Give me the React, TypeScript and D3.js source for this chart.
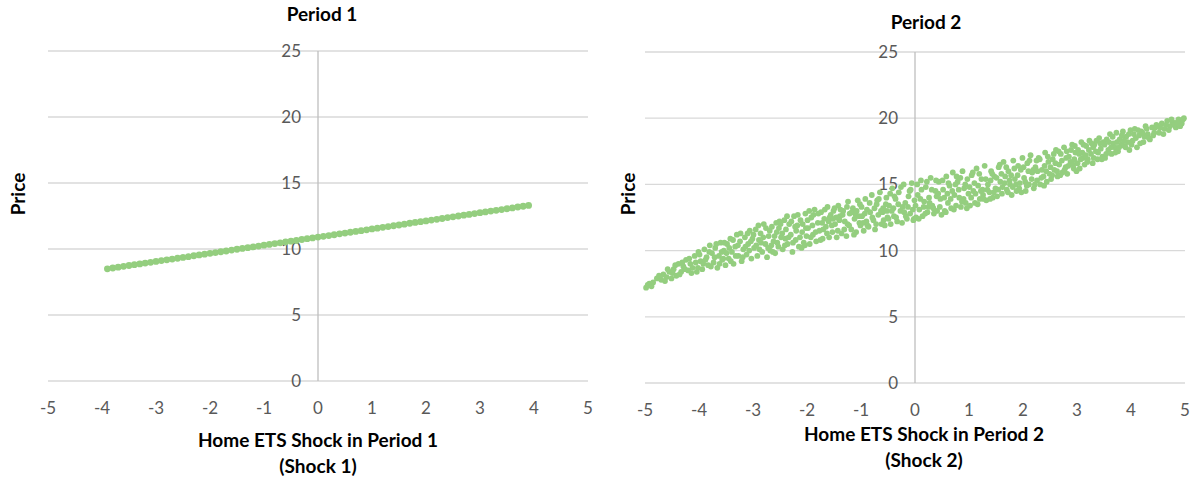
import React from "react";
import * as d3 from "d3";

// ---------- DATA ----------
const xTicks = [-5, -4, -3, -2, -1, 0, 1, 2, 3, 4, 5];
const yTicks = [0, 5, 10, 15, 20, 25];

const panelTitles = ["Period 1", "Period 2"];
const xTitles = [
  ["Home ETS Shock in Period 1", "(Shock 1)"],
  ["Home ETS Shock in Period 2", "(Shock 2)"],
];
const yTitle = "Price";

// Period 1: Shock 1 vs Price (points lie on a line)
const shock1 = [
  -3.9, -3.8, -3.7, -3.6, -3.5, -3.4, -3.3, -3.2, -3.1, -3.0, -2.9, -2.8, -2.7, -2.6, -2.5, -2.4, -2.3, -2.2, -2.1, -2.0,
  -1.9, -1.8, -1.7, -1.6, -1.5, -1.4, -1.3, -1.2, -1.1, -1.0, -0.9, -0.8, -0.7, -0.6, -0.5, -0.4, -0.3, -0.2, -0.1, 0.0,
  0.1, 0.2, 0.3, 0.4, 0.5, 0.6, 0.7, 0.8, 0.9, 1.0, 1.1, 1.2, 1.3, 1.4, 1.5, 1.6, 1.7, 1.8, 1.9, 2.0,
  2.1, 2.2, 2.3, 2.4, 2.5, 2.6, 2.7, 2.8, 2.9, 3.0, 3.1, 3.2, 3.3, 3.4, 3.5, 3.6, 3.7, 3.8, 3.9,
];
const price1 = [
  8.5, 8.56, 8.62, 8.69, 8.75, 8.81, 8.87, 8.93, 8.99, 9.06, 9.12, 9.18, 9.24, 9.3, 9.36, 9.42, 9.49, 9.55, 9.61, 9.67,
  9.73, 9.79, 9.85, 9.92, 9.98, 10.04, 10.1, 10.16, 10.22, 10.29, 10.35, 10.41, 10.47, 10.53, 10.59, 10.65, 10.72, 10.78, 10.84, 10.9,
  10.96, 11.02, 11.08, 11.15, 11.21, 11.27, 11.33, 11.39, 11.45, 11.52, 11.58, 11.64, 11.7, 11.76, 11.82, 11.88, 11.95, 12.01, 12.07, 12.13,
  12.19, 12.25, 12.31, 12.38, 12.44, 12.5, 12.56, 12.62, 12.68, 12.75, 12.81, 12.87, 12.93, 12.99, 13.05, 13.11, 13.18, 13.24, 13.3,
];

// Period 2: Shock 2 vs Price (scatter cloud), [shock, price]
const period2PointsA: [number, number][] = [
  [-4.98, 7.2], [-4.92, 7.5], [-4.85, 7.6], [-4.78, 7.9], [-4.7, 7.8], [-4.66, 8.2], [-4.6, 8.0], [-4.55, 8.4], [-4.51, 7.9],
  [-4.47, 8.6], [-4.42, 8.1], [-4.38, 9.0], [-4.33, 8.4], [-4.29, 8.8], [-4.24, 9.3], [-4.2, 8.5], [-4.16, 9.0], [-4.12, 8.7], [-4.08, 9.6], [-4.04, 8.4], [-4.01, 9.9],
  [-3.97, 9.2], [-3.94, 8.6], [-3.9, 10.1], [-3.86, 9.5], [-3.83, 8.9], [-3.8, 10.4], [-3.76, 9.8], [-3.73, 9.1], [-3.7, 10.2], [-3.66, 8.7], [-3.63, 9.6], [-3.6, 10.6], [-3.57, 9.3], [-3.54, 10.0], [-3.51, 8.9],
  [-3.48, 10.5], [-3.45, 9.4], [-3.42, 10.9], [-3.39, 9.9], [-3.36, 9.0], [-3.33, 10.3], [-3.3, 11.2], [-3.27, 9.6], [-3.24, 10.7], [-3.21, 9.2], [-3.18, 10.1], [-3.15, 11.0], [-3.12, 9.7], [-3.09, 10.5], [-3.06, 11.5], [-3.03, 9.4], [-3.01, 10.9],
  [-2.98, 10.2], [-2.95, 11.6], [-2.92, 9.6], [-2.89, 10.8], [-2.86, 11.3], [-2.83, 9.9], [-2.8, 12.0], [-2.77, 10.5], [-2.74, 9.5], [-2.71, 11.1], [-2.68, 10.0], [-2.65, 11.8], [-2.62, 10.7], [-2.59, 9.8], [-2.56, 11.4], [-2.53, 10.3], [-2.51, 12.2], [-2.88, 10.1], [-2.66, 10.4],
  [-2.48, 11.0], [-2.45, 10.1], [-2.42, 12.3], [-2.39, 11.6], [-2.36, 10.5], [-2.33, 12.0], [-2.3, 11.2], [-2.27, 9.9], [-2.24, 12.6], [-2.21, 10.8], [-2.18, 11.9], [-2.15, 10.3], [-2.12, 12.3], [-2.09, 11.4], [-2.06, 10.6], [-2.03, 12.8], [-2.01, 11.1], [-2.4, 10.9], [-2.2, 11.5], [-2.1, 10.2],
  [-1.98, 11.7], [-1.95, 10.5], [-1.92, 12.5], [-1.89, 11.2], [-1.86, 13.1], [-1.83, 10.7], [-1.8, 12.1], [-1.77, 11.5], [-1.74, 12.9], [-1.71, 10.9], [-1.68, 12.4], [-1.65, 11.8], [-1.62, 13.3], [-1.59, 11.0], [-1.56, 12.7], [-1.53, 11.4], [-1.51, 13.0], [-1.9, 11.9], [-1.7, 11.6], [-1.6, 12.2],
  [-1.48, 12.0], [-1.45, 11.0], [-1.42, 13.4], [-1.39, 12.6], [-1.36, 11.3], [-1.33, 13.0], [-1.3, 12.2], [-1.27, 11.1], [-1.24, 13.7], [-1.21, 12.8], [-1.18, 11.6], [-1.15, 13.2], [-1.12, 12.4], [-1.09, 11.4], [-1.06, 13.8], [-1.03, 12.1], [-1.01, 11.9], [-1.4, 12.3], [-1.25, 12.0], [-1.1, 12.7],
  [-0.98, 12.6], [-0.95, 11.5], [-0.92, 13.9], [-0.89, 13.1], [-0.86, 11.8], [-0.83, 12.9], [-0.8, 14.2], [-0.77, 12.3], [-0.74, 11.6], [-0.71, 13.5], [-0.68, 12.7], [-0.65, 14.4], [-0.62, 12.0], [-0.59, 13.2], [-0.56, 11.9], [-0.53, 14.0], [-0.51, 12.5], [-0.9, 12.2], [-0.7, 13.8], [-0.6, 12.9],
  [-0.48, 13.4], [-0.45, 12.0], [-0.42, 14.7], [-0.39, 12.6], [-0.36, 13.9], [-0.33, 12.2], [-0.3, 14.4], [-0.27, 13.0], [-0.24, 12.1], [-0.21, 15.0], [-0.18, 13.6], [-0.15, 12.4], [-0.12, 14.1], [-0.09, 12.8], [-0.06, 15.1], [-0.03, 12.3], [-0.01, 13.8], [-0.4, 13.2], [-0.2, 12.9], [-0.1, 14.5],
  [0.02, 12.5], [0.05, 14.2], [0.08, 13.1], [0.11, 15.3], [0.14, 12.6], [0.17, 13.7], [0.2, 14.8], [0.23, 12.9], [0.26, 14.0], [0.29, 15.5], [0.32, 13.4], [0.35, 12.8], [0.38, 14.5], [0.41, 13.0], [0.44, 15.2], [0.47, 13.9], [0.49, 12.7], [0.1, 13.9], [0.25, 13.3], [0.4, 14.1],
  [0.52, 14.6], [0.55, 13.0], [0.58, 15.6], [0.61, 13.6], [0.64, 14.9], [0.67, 13.2], [0.7, 15.9], [0.73, 14.2], [0.76, 13.4], [0.79, 15.2], [0.82, 14.0], [0.85, 13.3], [0.88, 16.0], [0.91, 14.7], [0.94, 13.6], [0.97, 15.4], [0.99, 14.3], [0.6, 14.3], [0.75, 15.0], [0.9, 13.9],
  [1.02, 13.4], [1.05, 15.7], [1.08, 14.5], [1.11, 13.6], [1.14, 16.2], [1.17, 14.9], [1.2, 13.9], [1.23, 15.4], [1.26, 14.2], [1.29, 16.4], [1.32, 13.8], [1.35, 15.0], [1.38, 14.4], [1.41, 16.0], [1.44, 14.0], [1.47, 15.6], [1.49, 14.7], [1.1, 15.1], [1.25, 14.6], [1.4, 15.3],
  [1.52, 14.1], [1.55, 16.3], [1.58, 15.2], [1.61, 14.3], [1.64, 16.7], [1.67, 15.6], [1.7, 14.6], [1.73, 16.0], [1.76, 15.0], [1.79, 14.2], [1.82, 16.8], [1.85, 15.4], [1.88, 14.5], [1.91, 16.4], [1.94, 15.1], [1.97, 14.4], [1.99, 17.0], [1.6, 15.8], [1.75, 15.3], [1.9, 15.7],
  [2.02, 15.5], [2.05, 14.5], [2.08, 16.6], [2.11, 15.0], [2.14, 17.2], [2.17, 15.9], [2.2, 14.7], [2.23, 16.3], [2.26, 15.3], [2.29, 17.0], [2.32, 15.0], [2.35, 16.1], [2.38, 15.6], [2.41, 17.4], [2.44, 15.2], [2.47, 16.7], [2.49, 15.8], [2.1, 16.0], [2.25, 16.8], [2.4, 16.4],
  [2.52, 15.4], [2.55, 16.9], [2.58, 16.1], [2.61, 17.6], [2.64, 15.6], [2.67, 16.5], [2.7, 17.3], [2.73, 15.9], [2.76, 17.8], [2.79, 16.3], [2.82, 15.8], [2.85, 17.1], [2.88, 16.7], [2.91, 18.0], [2.94, 16.2], [2.97, 17.4], [2.99, 16.0], [2.6, 16.6], [2.8, 17.0], [2.95, 16.9],
  [3.02, 17.6], [3.05, 16.2], [3.08, 18.2], [3.11, 17.0], [3.14, 16.5], [3.17, 17.9], [3.2, 16.9], [3.23, 18.3], [3.26, 17.3], [3.29, 16.6], [3.32, 18.0], [3.35, 17.5], [3.38, 16.9], [3.41, 18.5], [3.44, 17.7], [3.47, 17.1], [3.49, 18.2], [3.1, 17.4], [3.3, 17.8],
  [3.52, 17.0], [3.55, 18.4], [3.58, 17.6], [3.61, 18.8], [3.64, 17.3], [3.67, 18.1], [3.7, 17.8], [3.73, 18.9], [3.76, 17.5], [3.79, 18.4], [3.82, 18.0], [3.85, 19.0], [3.88, 17.9], [3.91, 18.6], [3.94, 18.2], [3.97, 17.6], [3.99, 19.1],
  [4.03, 18.3], [4.07, 19.2], [4.11, 17.8], [4.15, 18.7], [4.19, 19.0], [4.23, 18.2], [4.27, 19.4], [4.31, 18.8], [4.35, 18.4], [4.39, 19.3], [4.43, 18.9], [4.47, 19.5],
  [4.52, 18.9], [4.57, 19.6], [4.62, 19.2], [4.67, 19.8], [4.72, 19.4], [4.77, 19.7], [4.83, 19.3], [4.88, 19.9], [4.94, 19.6], [4.98, 20.0],
];

const period2PointsB: [number, number][] = [
  [-4.95, 7.4], [-4.88, 7.3], [-4.74, 8.1], [-4.63, 7.7], [-4.58, 8.6],
  [-4.49, 8.3], [-4.44, 8.9], [-4.36, 8.2], [-4.31, 9.1], [-4.26, 8.6], [-4.18, 9.4], [-4.14, 8.3], [-4.06, 9.1], [-4.02, 8.7],
  [-3.99, 9.7], [-3.92, 9.0], [-3.88, 9.3], [-3.81, 9.9], [-3.78, 8.8], [-3.71, 9.5], [-3.68, 10.5], [-3.62, 9.0], [-3.58, 9.9], [-3.53, 10.6], [-3.55, 9.4],
  [-3.49, 9.8], [-3.44, 10.2], [-3.41, 9.2], [-3.37, 10.8], [-3.32, 9.6], [-3.28, 10.4], [-3.23, 11.3], [-3.19, 9.5], [-3.14, 10.3], [-3.1, 11.3], [-3.07, 10.0], [-3.04, 10.7],
  [-2.99, 11.2], [-2.94, 10.4], [-2.9, 11.9], [-2.85, 10.6], [-2.81, 11.0], [-2.76, 11.7], [-2.72, 10.2], [-2.69, 11.5], [-2.63, 9.9], [-2.6, 11.1], [-2.55, 10.6], [-2.52, 11.7], [-2.57, 12.1],
  [-2.49, 12.0], [-2.46, 11.3], [-2.41, 10.4], [-2.37, 12.6], [-2.34, 11.0], [-2.29, 12.2], [-2.26, 10.6], [-2.22, 11.8], [-2.17, 12.7], [-2.13, 11.0], [-2.08, 12.0], [-2.04, 10.4], [-2.02, 11.7],
  [-1.99, 12.3], [-1.96, 13.0], [-1.93, 11.0], [-1.88, 12.7], [-1.84, 11.4], [-1.79, 12.8], [-1.75, 10.8], [-1.72, 12.1], [-1.67, 13.1], [-1.63, 11.3], [-1.58, 12.5], [-1.54, 11.9], [-1.52, 12.4],
  [-1.49, 13.2], [-1.46, 12.5], [-1.43, 11.5], [-1.38, 13.1], [-1.34, 12.7], [-1.31, 11.6], [-1.26, 13.3], [-1.22, 11.9], [-1.17, 12.9], [-1.13, 11.2], [-1.08, 13.0], [-1.04, 12.6], [-1.02, 13.5],
  [-0.99, 13.3], [-0.96, 12.1], [-0.93, 12.8], [-0.88, 11.9], [-0.84, 13.6], [-0.79, 12.5], [-0.75, 13.2], [-0.72, 12.0], [-0.67, 13.9], [-0.63, 13.0], [-0.58, 12.3], [-0.54, 13.5], [-0.52, 13.0],
  [-0.49, 12.4], [-0.46, 14.3], [-0.43, 13.0], [-0.38, 14.1], [-0.35, 12.5], [-0.31, 13.5], [-0.26, 14.8], [-0.23, 13.3], [-0.17, 12.6], [-0.13, 13.3], [-0.08, 14.6], [-0.04, 13.1], [-0.02, 12.4],
  [0.01, 13.4], [0.04, 15.0], [0.07, 12.4], [0.12, 14.6], [0.16, 13.3], [0.19, 12.8], [0.22, 15.2], [0.27, 13.6], [0.31, 14.6], [0.34, 13.2], [0.39, 15.3], [0.43, 14.3], [0.46, 13.3],
  [0.51, 15.3], [0.54, 14.0], [0.57, 12.9], [0.62, 15.1], [0.66, 13.9], [0.69, 14.5], [0.72, 13.1], [0.77, 15.6], [0.81, 14.6], [0.84, 15.5], [0.87, 13.7], [0.93, 15.0], [0.96, 13.2],
  [1.01, 14.8], [1.04, 14.0], [1.07, 15.9], [1.12, 14.3], [1.16, 13.5], [1.19, 15.8], [1.22, 14.5], [1.27, 13.9], [1.31, 15.4], [1.34, 14.6], [1.39, 13.9], [1.43, 15.8], [1.46, 14.4],
  [1.51, 15.5], [1.54, 14.6], [1.57, 16.5], [1.62, 14.8], [1.66, 15.1], [1.69, 16.3], [1.72, 14.4], [1.78, 15.7], [1.81, 14.8], [1.84, 16.2], [1.87, 15.0], [1.93, 14.7], [1.96, 16.1],
  [2.01, 16.3], [2.04, 15.2], [2.07, 14.9], [2.12, 16.8], [2.16, 15.4], [2.19, 16.1], [2.22, 15.0], [2.27, 16.0], [2.31, 16.9], [2.34, 15.5], [2.39, 14.9], [2.43, 16.0], [2.46, 17.1],
  [2.51, 16.3], [2.54, 15.7], [2.57, 17.3], [2.63, 16.0], [2.66, 17.5], [2.69, 15.7], [2.72, 16.8], [2.77, 16.1], [2.81, 17.5], [2.84, 16.4], [2.89, 17.6], [2.93, 16.5], [2.96, 17.9],
  [3.01, 16.6], [3.04, 17.3], [3.07, 16.9], [3.12, 18.0], [3.16, 17.2], [3.19, 16.7], [3.22, 17.6], [3.27, 18.1], [3.31, 17.0], [3.36, 18.3], [3.39, 17.4], [3.43, 18.1], [3.46, 16.9],
  [3.51, 18.0], [3.54, 17.3], [3.59, 18.2], [3.63, 17.8], [3.66, 18.6], [3.71, 17.4], [3.74, 18.2], [3.78, 17.8], [3.83, 18.7], [3.87, 18.3], [3.9, 17.8], [3.96, 18.8],
  [4.01, 18.0], [4.05, 18.8], [4.09, 18.5], [4.13, 19.1], [4.17, 18.1], [4.21, 18.9], [4.25, 18.6], [4.29, 19.2], [4.33, 18.5], [4.41, 18.7], [4.45, 19.3],
  [4.54, 19.3], [4.6, 18.8], [4.65, 19.5], [4.7, 19.1], [4.75, 19.9], [4.8, 19.5], [4.86, 19.7], [4.91, 19.4], [4.96, 19.9],
];

// ---------- STYLE ----------
const FONT = "Lato, 'Open Sans', sans-serif";
const DOT = "#94ce7f";
const GRID = "#d9d9d9";
const AXIS = "#bfbfbf";
const TICK_COLOR = "#595959";

type PanelCfg = {
  x0: number; x1: number; yTop: number; yBottom: number;
  titleX: number; titleY: number;
  xTitleX: number; xTitleY1: number; xTitleY2: number;
  tickY: number; priceX: number; priceY: number;
};

const panels: PanelCfg[] = [
  { x0: 48, x1: 588, yTop: 51, yBottom: 381, titleX: 322, titleY: 21, xTitleX: 318, xTitleY1: 447, xTitleY2: 473, tickY: 414, priceX: 25, priceY: 194 },
  { x0: 645, x1: 1185, yTop: 52, yBottom: 383, titleX: 926, titleY: 29, xTitleX: 924, xTitleY1: 441, xTitleY2: 467, tickY: 416, priceX: 635, priceY: 194 },
];

function Panel({ cfg, idx, pts, r }: { cfg: PanelCfg; idx: number; pts: [number, number][]; r: number }) {
  const x = d3.scaleLinear().domain([-5, 5]).range([cfg.x0, cfg.x1]);
  const y = d3.scaleLinear().domain([0, 25]).range([cfg.yBottom, cfg.yTop]);
  const ax = x(0);
  return (
    <g>
      {yTicks.map((t) => (
        <line key={"g" + t} x1={cfg.x0} x2={cfg.x1} y1={y(t)} y2={y(t)} stroke={GRID} strokeWidth={1.3} />
      ))}
      <line x1={ax} x2={ax} y1={y(25)} y2={y(0)} stroke={AXIS} strokeWidth={1.3} />
      {yTicks.map((t) => (
        <text key={"yl" + t} x={ax - 17} y={y(t)} dy="0.35em" textAnchor="end" fontSize={17} fill={TICK_COLOR} fontFamily={FONT}>
          {t}
        </text>
      ))}
      {xTicks.map((t) => (
        <text key={"xl" + t} x={x(t)} y={cfg.tickY} textAnchor="middle" fontSize={17} fill={TICK_COLOR} fontFamily={FONT}>
          {t}
        </text>
      ))}
      {pts.map((p, i) => (
        <circle key={i} cx={x(p[0])} cy={y(p[1])} r={r} fill={DOT} />
      ))}
      <text x={cfg.titleX} y={cfg.titleY} textAnchor="middle" fontSize={19} fontWeight={700} fill="#000" fontFamily={FONT}>
        {panelTitles[idx]}
      </text>
      <text x={cfg.xTitleX} y={cfg.xTitleY1} textAnchor="middle" fontSize={19} fontWeight={700} fill="#000" fontFamily={FONT}>
        {xTitles[idx][0]}
      </text>
      <text x={cfg.xTitleX} y={cfg.xTitleY2} textAnchor="middle" fontSize={19} fontWeight={700} fill="#000" fontFamily={FONT}>
        {xTitles[idx][1]}
      </text>
      <text
        transform={`translate(${cfg.priceX},${cfg.priceY}) rotate(-90)`}
        textAnchor="middle"
        fontSize={19}
        fontWeight={700}
        fill="#000"
        fontFamily={FONT}
      >
        {yTitle}
      </text>
    </g>
  );
}

export default function App() {
  const p1: [number, number][] = shock1.map((s, i) => [s, price1[i]]);
  const p2: [number, number][] = [...period2PointsA, ...period2PointsB];
  return (
    <svg
      width={1196}
      height={482}
      style={{ position: "absolute", left: 0, top: 0, background: "#fff" }}
    >
      <rect width={1196} height={482} fill="#fff" />
      <Panel cfg={panels[0]} idx={0} pts={p1} r={3.4} />
      <Panel cfg={panels[1]} idx={1} pts={p2} r={2.9} />
    </svg>
  );
}
